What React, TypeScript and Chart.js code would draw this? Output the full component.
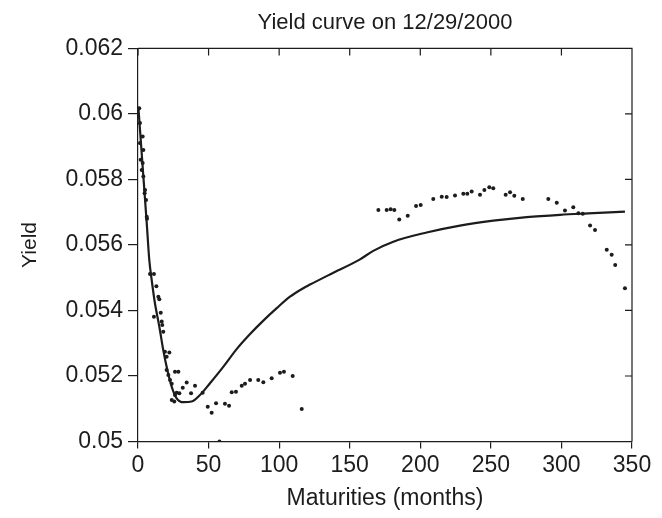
import React, { useEffect, useRef } from "react";
import { Chart, registerables } from "chart.js";

Chart.register(...registerables);

// Observed yields (dots)
const dotMonths = [
  0.9, 1.4, 3.3, 1.4, 3.8, 1.9, 3.3, 2.6, 3.8, 4.7, 5.0, 5.7, 6.2, 6.4,
  8.5, 11.3, 13.0, 14.4, 15.1, 11.3, 16.1, 16.8, 17.2, 17.9, 19.1, 22.2, 20.3, 20.3,
  21.5, 26.2, 28.6, 22.7, 23.9, 34.5, 31.7, 40.4, 37.6, 27.4, 29.3, 26.2, 23.9, 25.7,
  45.8, 49.4, 52.2, 55.3, 61.6, 64.5, 57.7, 66.4, 69.4, 73.5, 75.8, 79.4, 85.2, 88.8,
  94.7, 100.6, 103.4, 109.6, 116.0,
  170.3, 176.2, 179.0, 181.6, 185.1, 191.1, 197.0, 200.3, 209.2, 215.2, 218.7, 224.6,
  230.5, 233.3, 236.4, 242.3, 245.4, 248.9, 251.7, 260.5, 263.6, 266.6, 272.6, 290.7,
  296.7, 302.5, 308.4, 312.0, 315.1, 320.3, 323.8, 332.1, 335.6, 338.1, 345.0,
];
const dotYields = [
  0.06017, 0.05972, 0.05931, 0.05911, 0.0589, 0.0586, 0.0585, 0.05829, 0.05809, 0.05758, 0.05768, 0.05737, 0.05686, 0.0568,
  0.05511, 0.05511, 0.05474, 0.05442, 0.05434, 0.05381, 0.05393, 0.05366, 0.05356, 0.05335, 0.05274, 0.05272, 0.05259, 0.05218,
  0.05203, 0.05213, 0.05213, 0.05188, 0.05176, 0.0518, 0.05164, 0.0517, 0.05147, 0.05149, 0.05147, 0.05142, 0.05127, 0.05122,
  0.05149, 0.05106, 0.05088, 0.05117, 0.05115, 0.05109, 0.05, 0.0515, 0.05152, 0.0517, 0.05176, 0.05188, 0.05188, 0.05181,
  0.05193, 0.0521, 0.05213, 0.052, 0.05099,
  0.05707, 0.05707, 0.05709, 0.05707, 0.05678, 0.05689, 0.05719, 0.05722, 0.0574, 0.05747, 0.05746, 0.05751,
  0.05756, 0.05756, 0.05763, 0.05753, 0.05768, 0.05776, 0.05773, 0.05753, 0.05761, 0.0575, 0.0574, 0.0574,
  0.05729, 0.05705, 0.05715, 0.05697, 0.05695, 0.05659, 0.05646, 0.05585, 0.0557, 0.05539, 0.05468,
];

// Fitted yield curve (solid line)
const curveMonths = [
  0.25, 3.8, 6.2, 8.0, 9.7, 12.0, 15.1, 17.9, 20.8, 23.9, 27.4, 32.1, 38.0, 43.9,
  51.0, 60.4, 69.9, 79.4, 88.8, 98.3, 107.7, 117.1, 121.9, 136.0, 157.3, 166.7,
  180.9, 204.5, 228.1, 251.7, 275.4, 299.0, 322.6, 345.0,
];
const curveYields = [
  0.06022, 0.05809, 0.05666, 0.05554, 0.05493, 0.05422, 0.05351, 0.05279, 0.05218, 0.05167, 0.05132, 0.0512, 0.05122, 0.05142,
  0.05178, 0.05228, 0.05282, 0.05328, 0.05369, 0.05407, 0.05442, 0.05468, 0.05479, 0.0551, 0.05556, 0.05582,
  0.0561, 0.05638, 0.05659, 0.05674, 0.05685, 0.05692, 0.05697, 0.05702,
];

const titleText = "Yield curve on 12/29/2000";
const xTitle = "Maturities (months)";
const yTitle = "Yield";

const FONT = "'Liberation Sans', Arial, Helvetica, sans-serif";
const INK = "#1c1c1c";

const framePlugin = {
  id: "frameTicks",
  afterDraw(chart: any) {
    const { ctx, chartArea: a, scales } = chart;
    ctx.save();
    ctx.strokeStyle = INK;
    ctx.lineWidth = 1.2;
    ctx.beginPath();
    ctx.moveTo(a.left, a.top);
    ctx.lineTo(a.right, a.top);
    ctx.lineTo(a.right, a.bottom);
    scales.x.ticks.forEach((t: any) => {
      const px = scales.x.getPixelForValue(t.value);
      ctx.moveTo(px, a.top);
      ctx.lineTo(px, a.top + 7);
    });
    scales.y.ticks.forEach((t: any) => {
      const py = scales.y.getPixelForValue(t.value);
      ctx.moveTo(a.right, py);
      ctx.lineTo(a.right - 7, py);
    });
    ctx.stroke();
    ctx.restore();
  },
};

export default function App() {
  const ref = useRef<HTMLCanvasElement | null>(null);

  useEffect(() => {
    if (!ref.current) return;
    const chart = new Chart(ref.current, {
      type: "scatter",
      data: {
        datasets: [
          {
            label: "Observed",
            data: dotMonths.map((m, i) => ({ x: m, y: dotYields[i] })),
            pointRadius: 2,
            pointHoverRadius: 2,
            pointBackgroundColor: INK,
            pointBorderWidth: 0,
            showLine: false,
          },
          {
            label: "Fitted",
            data: curveMonths.map((m, i) => ({ x: m, y: curveYields[i] })),
            showLine: true,
            borderColor: INK,
            borderWidth: 2.2,
            pointRadius: 0,
            cubicInterpolationMode: "monotone",
          },
        ],
      },
      options: {
        responsive: false,
        animation: false,
        layout: { padding: { left: 0, right: 30, top: 0, bottom: 0 } },
        plugins: {
          legend: { display: false },
          tooltip: { enabled: false },
          title: {
            display: true,
            text: titleText,
            fullSize: false,
            color: INK,
            font: { family: FONT, size: 22, weight: "normal" },
            padding: { top: 10, bottom: 12 },
          },
        },
        scales: {
          x: {
            type: "linear",
            min: 0,
            max: 350,
            ticks: {
              stepSize: 50,
              color: INK,
              font: { family: FONT, size: 23 },
              padding: 3,
              maxRotation: 0,
            },
            grid: { drawOnChartArea: false, drawTicks: true, tickLength: 7, color: INK, lineWidth: 1.2 },
            border: { display: true, color: INK, width: 1.2 },
            title: {
              display: true,
              text: xTitle,
              color: INK,
              font: { family: FONT, size: 23 },
              padding: { top: 4, bottom: 6 },
            },
            afterFit(scale: any) {
              scale.height = 76.5;
            },
          },
          y: {
            type: "linear",
            min: 0.05,
            max: 0.062,
            ticks: {
              stepSize: 0.002,
              color: INK,
              font: { family: FONT, size: 23 },
              padding: 5,
              callback: (v: any) => String(Number(Number(v).toFixed(3))),
            },
            grid: { drawOnChartArea: false, drawTicks: true, tickLength: 10, color: INK, lineWidth: 1.2 },
            border: { display: true, color: INK, width: 1.2 },
            title: {
              display: true,
              text: yTitle,
              color: INK,
              font: { family: FONT, size: 21 },
              padding: { top: 18, bottom: 0 },
            },
            afterFit(scale: any) {
              scale.width = 138;
            },
          },
        },
      },
      plugins: [framePlugin],
    });
    return () => chart.destroy();
  }, []);

  return (
    <div style={{ position: "absolute", left: 0, top: 0, width: 662, height: 518, background: "#fff" }}>
      <canvas ref={ref} width={662} height={518} style={{ display: "block" }} />
    </div>
  );
}
